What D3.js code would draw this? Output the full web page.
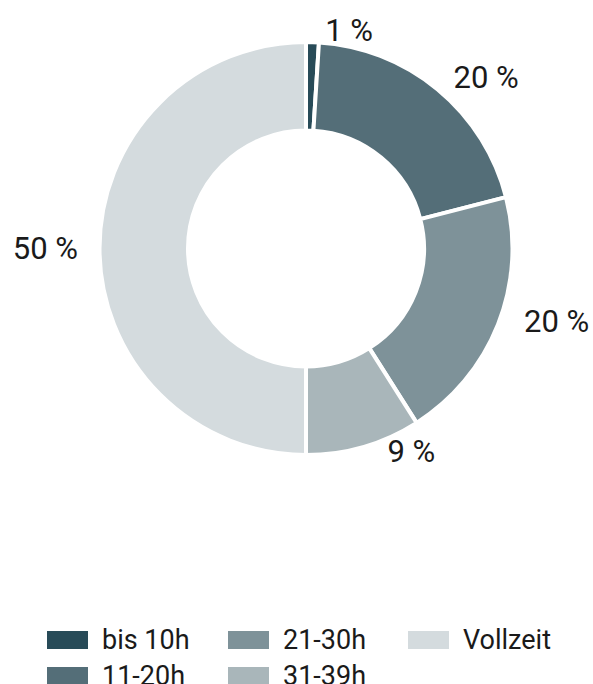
<!DOCTYPE html>
<html>
<head>
<meta charset="utf-8">
<script src="https://cdn.jsdelivr.net/npm/d3@7"></script>
<style>
  html, body { margin: 0; padding: 0; background: #fff; }
  svg { display: block; font-family: Roboto, "Noto Sans", sans-serif; }
</style>
</head>
<body>
<svg id="chart" width="593" height="684"></svg>
<script>
// Arbeitszeit-Verteilung (Anteile in %)
const categories = ["bis 10h", "11-20h", "21-30h", "31-39h", "Vollzeit"];
const values = [1, 20, 20, 9, 50];
const colors = ["#284b58", "#546e78", "#7e9299", "#a9b6ba", "#d4dbde"];

const svg = d3.select("#chart");
const cx = 306, cy = 248.5;
const outerR = 206.5, innerR = 118;

const color = d3.scaleOrdinal().domain(categories).range(colors);

const pie = d3.pie().sort(null).value(d => d.value);
const arcs = pie(categories.map((c, i) => ({ cat: c, value: values[i] })));

const arc = d3.arc().innerRadius(innerR).outerRadius(outerR);
const labelArc = d3.arc().innerRadius(228).outerRadius(228);

const g = svg.append("g").attr("transform", `translate(${cx},${cy})`);

g.selectAll("path.slice")
  .data(arcs)
  .join("path")
  .attr("class", "slice")
  .attr("d", arc)
  .attr("fill", d => color(d.data.cat))
  .attr("stroke", "#fff")
  .attr("stroke-width", 4)
  .attr("stroke-linejoin", "miter");

// Prozent-Beschriftung außerhalb des Rings
g.selectAll("text.lbl")
  .data(arcs)
  .join("text")
  .attr("class", "lbl")
  .each(function(d) {
    const [x, y] = labelArc.centroid(d);
    const mid = (d.startAngle + d.endAngle) / 2;
    const c = Math.cos(mid);
    const right = mid < Math.PI;
    let dx = 0, dy = 0;
    if (right && c >= 0) {            // oben rechts
      dx = Math.max(2, 12 * Math.cos(2 * mid));
      dy = 10 * c * c * c;
    } else if (right) {               // unten rechts
      dx = 4 + 15 * c * c;
      dy = -(8 + 8 * Math.abs(c));
    }
    d3.select(this)
      .attr("x", x + dx)
      .attr("y", y + dy)
      .attr("text-anchor", right ? "start" : "end");
  })
  .attr("dominant-baseline", "central")
  .attr("font-size", 31)
  .attr("fill", "#1a1a1a")
  .text(d => `${d.data.value} %`);

// Legende
const legendCols = [47, 228, 408];
const legendRows = [640, 676];
const legendPos = [[0, 0], [0, 1], [1, 0], [1, 1], [2, 0]];

const legend = svg.append("g")
  .selectAll("g")
  .data(categories)
  .join("g")
  .attr("transform", (d, i) => `translate(${legendCols[legendPos[i][0]]},${legendRows[legendPos[i][1]]})`);

legend.append("rect")
  .attr("x", 0).attr("y", -9)
  .attr("width", 41).attr("height", 18)
  .attr("fill", d => color(d));

legend.append("text")
  .attr("x", 55).attr("y", 0)
  .attr("dominant-baseline", "central")
  .attr("font-size", 27)
  .attr("fill", "#1a1a1a")
  .text(d => d);
</script>
</body>
</html>
